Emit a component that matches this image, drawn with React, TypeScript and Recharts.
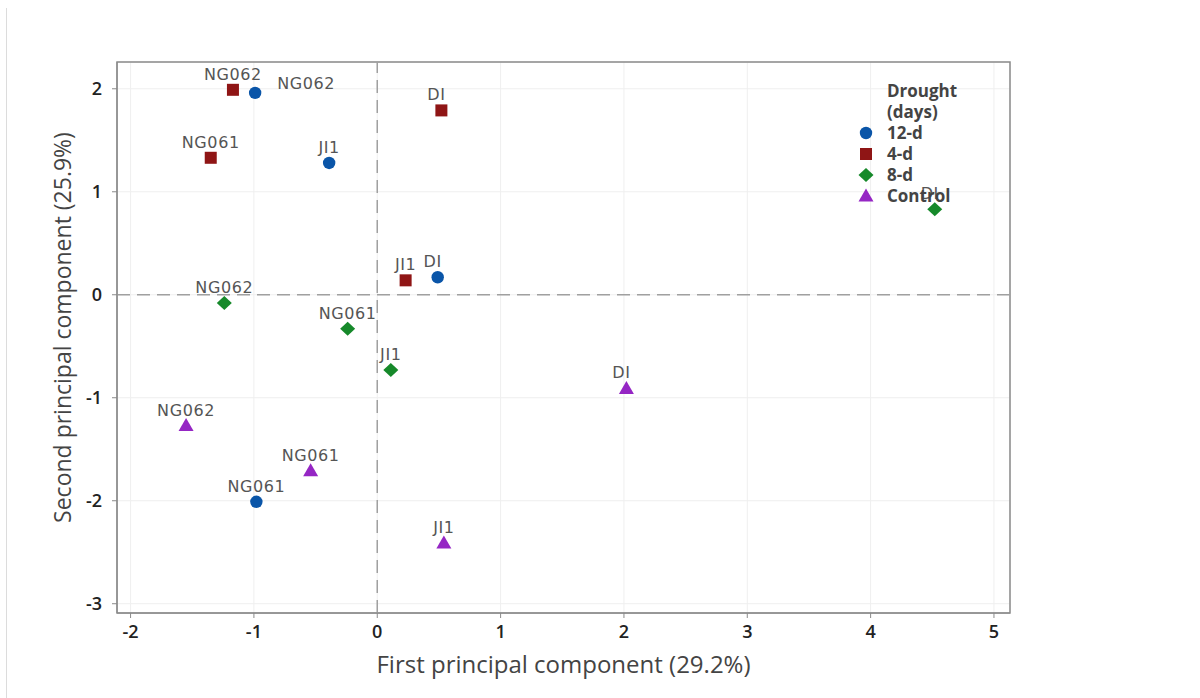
import React from "react";
import {
  ScatterChart,
  Scatter,
  XAxis,
  YAxis,
  CartesianGrid,
  ReferenceLine,
  ReferenceArea,
} from "recharts";

// PCA scores of genotypes under drought treatments
const days12 = [
  { name: "NG062", pc1: -0.99, pc2: 1.96 },
  { name: "JI1", pc1: -0.39, pc2: 1.28 },
  { name: "DI", pc1: 0.49, pc2: 0.17 },
  { name: "NG061", pc1: -0.98, pc2: -2.01 },
];
const days4 = [
  { name: "NG062", pc1: -1.17, pc2: 1.99 },
  { name: "NG061", pc1: -1.35, pc2: 1.33 },
  { name: "DI", pc1: 0.52, pc2: 1.79 },
  { name: "JI1", pc1: 0.23, pc2: 0.14 },
];
const days8 = [
  { name: "NG062", pc1: -1.24, pc2: -0.08 },
  { name: "NG061", pc1: -0.24, pc2: -0.33 },
  { name: "JI1", pc1: 0.11, pc2: -0.73 },
  { name: "DI", pc1: 4.52, pc2: 0.83 },
];
const control = [
  { name: "NG062", pc1: -1.55, pc2: -1.27 },
  { name: "NG061", pc1: -0.54, pc2: -1.71 },
  { name: "JI1", pc1: 0.54, pc2: -2.41 },
  { name: "DI", pc1: 2.02, pc2: -0.91 },
];

const groupNames = ["12-d", "4-d", "8-d", "Control"];
const xTicks = [-2, -1, 0, 1, 2, 3, 4, 5];
const yTicks = [-3, -2, -1, 0, 1, 2];
const xDomain: [number, number] = [-2.11, 5.13];
const yDomain: [number, number] = [-3.09, 2.26];

type MarkerKind = "circle" | "square" | "diamond" | "triangle";

const groupStyle: Record<string, { color: string; kind: MarkerKind }> = {
  "12-d": { color: "#0a55a8", kind: "circle" },
  "4-d": { color: "#8f1515", kind: "square" },
  "8-d": { color: "#16892a", kind: "diamond" },
  Control: { color: "#9526c4", kind: "triangle" },
};

// label nudges (dx, dy of the text baseline relative to the marker)
const labelNudge: Record<string, [number, number]> = {
  "12-d:NG062": [51, -4],
};
const defaultNudge = (name: string): [number, number] =>
  name === "DI" ? [-5, -10] : [0, -10];

const LABEL_FONT = "'DejaVu Sans', sans-serif";
const AXIS_FONT = "'Open Sans', sans-serif";

function Marker({ kind, color, cx, cy }: { kind: MarkerKind; color: string; cx: number; cy: number }) {
  if (kind === "circle") return <circle cx={cx} cy={cy} r={6.2} fill={color} />;
  if (kind === "square")
    return <rect x={cx - 6} y={cy - 6} width={12} height={12} fill={color} />;
  if (kind === "diamond")
    return (
      <polygon
        points={`${cx},${cy - 7} ${cx + 7.5},${cy} ${cx},${cy + 7} ${cx - 7.5},${cy}`}
        fill={color}
      />
    );
  return (
    <polygon
      points={`${cx},${cy - 7.5} ${cx + 7.5},${cy + 5.5} ${cx - 7.5},${cy + 5.5}`}
      fill={color}
    />
  );
}

const makeShape = (group: string) => (props: any) => {
  const { cx, cy, payload } = props;
  const st = groupStyle[group];
  const key = `${group}:${payload.name}`;
  const [dx, dy] = labelNudge[key] ?? defaultNudge(payload.name);
  return (
    <g>
      <Marker kind={st.kind} color={st.color} cx={cx} cy={cy} />
      <text
        x={cx + dx}
        y={cy + dy}
        textAnchor="middle"
        fontFamily={LABEL_FONT}
        fontSize={16}
        letterSpacing={0.6}
        fill="#555"
      >
        {payload.name}
      </text>
    </g>
  );
};

function LegendBox() {
  const rowH = 21;
  return (
    <div
      style={{
        position: "absolute",
        left: 858,
        top: 80,
        fontFamily: AXIS_FONT,
        fontSize: 17,
        fontWeight: 700,
        color: "#444",
        lineHeight: `${rowH}px`,
      }}
    >
      <div style={{ paddingLeft: 29 }}>Drought</div>
      <div style={{ paddingLeft: 29 }}>(days)</div>
      {groupNames.map((g) => {
        const st = groupStyle[g];
        return (
          <div key={g} style={{ display: "flex", alignItems: "center", height: rowH }}>
            <svg width={16} height={16} style={{ marginRight: 13 }}>
              <Marker kind={st.kind} color={st.color} cx={8} cy={8} />
            </svg>
            <span>{g}</span>
          </div>
        );
      })}
    </div>
  );
}

const YTitle = (props: any) => {
  const vb = props.viewBox || {};
  const cx = vb.x + 62;
  const cy = vb.y + vb.height / 2 - 10;
  return (
    <text
      x={cx}
      y={cy}
      transform={`rotate(-90 ${cx} ${cy})`}
      textAnchor="middle"
      dominantBaseline="central"
      fontFamily={AXIS_FONT}
      fontSize={23}
      fill="#444"
    >
      Second principal component (25.9%)
    </text>
  );
};

export default function App() {
  const tickStyle = { fontFamily: AXIS_FONT, fontSize: 18, fontWeight: 600, fill: "#222" };
  return (
    <div style={{ position: "absolute", left: 0, top: 0, width: 1200, height: 698, background: "#fff" }}>
      <div
        style={{ position: "absolute", left: 6, top: 8, width: 1, height: 690, background: "#dcdcdc" }}
      />
      <ScatterChart
        width={1200}
        height={698}
        margin={{ top: 62, right: 190, bottom: 15, left: 0 }}
      >
        <CartesianGrid stroke="#efefef" strokeWidth={1} />
        <XAxis
          type="number"
          dataKey="pc1"
          domain={xDomain}
          ticks={xTicks}
          allowDataOverflow
          height={70}
          tickSize={5}
          tickMargin={7}
          stroke="#8a8a8a"
          tick={tickStyle}
          label={{
            value: "First principal component (29.2%)",
            position: "insideBottom",
            offset: 10,
            style: { fontFamily: AXIS_FONT, fontSize: 24, fill: "#444" },
          }}
        />
        <YAxis
          type="number"
          dataKey="pc2"
          domain={yDomain}
          ticks={yTicks}
          allowDataOverflow
          width={117}
          tickSize={5}
          tickMargin={10}
          stroke="#8a8a8a"
          tick={tickStyle}
          label={<YTitle />}
        />
        <ReferenceArea
          x1={xDomain[0]}
          x2={xDomain[1]}
          y1={yDomain[0]}
          y2={yDomain[1]}
          fill="none"
          stroke="#8a8a8a"
          strokeWidth={1.5}
          fillOpacity={0}
        />
        <ReferenceLine x={0} stroke="#a0a0a0" strokeWidth={1.5} strokeDasharray="13 7" />
        <ReferenceLine y={0} stroke="#a0a0a0" strokeWidth={1.5} strokeDasharray="13 7" />
        <Scatter name="12-d" data={days12} shape={makeShape("12-d")} isAnimationActive={false} />
        <Scatter name="4-d" data={days4} shape={makeShape("4-d")} isAnimationActive={false} />
        <Scatter name="8-d" data={days8} shape={makeShape("8-d")} isAnimationActive={false} />
        <Scatter name="Control" data={control} shape={makeShape("Control")} isAnimationActive={false} />
      </ScatterChart>
      <LegendBox />
    </div>
  );
}
